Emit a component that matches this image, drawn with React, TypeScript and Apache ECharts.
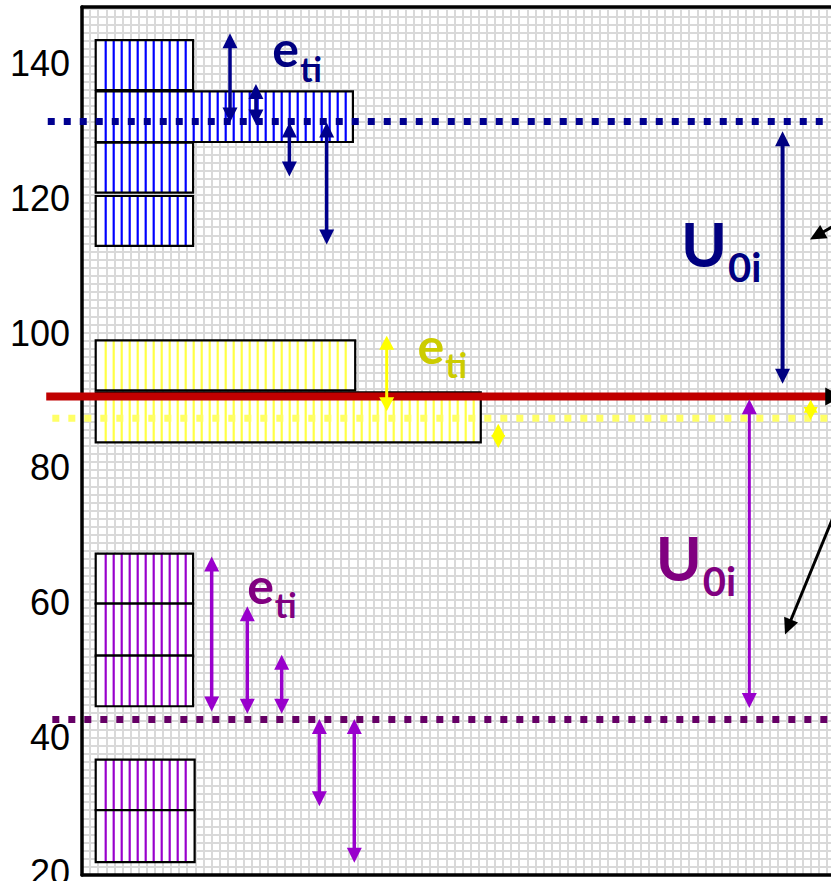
import React, { useEffect, useRef } from "react";
import * as echarts from "echarts";

// ---- axes ----
const Y_MIN = 19.7;
const Y_MAX = 148.3;
const X_MIN = 0;
const X_MAX = 100;
const Y_TICKS = [20, 40, 60, 80, 100, 120, 140];
const GRID_CELLS_X = 94;
const GRID_CELLS_Y = 107.2;

// ---- striped boxes: [xStart, xEnd, yBottom, yTop] ----
const BLUE_BOXES = [
  [1.8, 14.6, 136.0, 143.4],
  [1.8, 35.6, 128.3, 135.8],
  [1.8, 14.6, 120.8, 128.2],
  [1.8, 14.6, 112.9, 120.3],
];
const YELLOW_BOXES = [
  [1.8, 35.9, 91.5, 98.9],
  [1.8, 52.4, 83.8, 91.2],
];
const PURPLE_BOXES = [
  [1.8, 14.6, 59.9, 67.3],
  [1.8, 14.6, 52.2, 59.9],
  [1.8, 14.6, 44.7, 52.2],
  [1.8, 14.8, 29.3, 36.8],
  [1.8, 14.8, 21.6, 29.3],
];

// ---- level lines: [xStart, xEnd, y] ----
const BLUE_LEVEL = [-4.5, 104, 131.35];
const YELLOW_LEVEL = [-3.9, 104, 87.36];
const PURPLE_LEVEL = [-3.9, 104, 42.74];
const RED_LEVEL = [-4.7, 99.9, 90.6]; // ends in an arrow tip

// ---- double arrows: [x, yTop, yBottom] ----
const BLUE_ARROWS = [
  [19.45, 144.4, 131.2],
  [22.86, 136.9, 130.9],
  [27.25, 131.2, 123.2],
  [32.15, 131.2, 113.1],
];
const NAVY_U_ARROW = [[92.06, 129.9, 92.5]];
const YELLOW_ARROWS = [[40.04, 99.6, 88.4]];
const YELLOW_SMALL_ARROWS = [
  [54.7, 86.56, 82.96],
  [95.75, 90.1, 87.1],
];
const PURPLE_ARROWS = [
  [17.04, 66.9, 43.94],
  [21.72, 59.5, 43.6],
  [26.24, 52.34, 43.6],
  [31.19, 42.8, 29.9],
  [35.78, 42.8, 21.5],
];
const PURPLE_U_ARROW = [[87.69, 90.2, 44.44]];

// ---- black pointer arrows: [xTail, yTail, xTip, yTip] ----
const BLACK_ARROWS = [
  [100.26, 116.8, 95.66, 113.85],
  [100.26, 76.98, 92.38, 55.35],
];

// ---- labels: [x, yBaseline] ----
const BLUE_E_POS = [[25.0, 139.3]];
const YELLOW_E_POS = [[44.1, 95.3]];
const PURPLE_E_POS = [[21.7, 59.8]];
const NAVY_U_POS = [[78.7, 109.8]];
const PURPLE_U_POS = [[75.4, 63.2]];

const LABEL_FONT = "Lato, 'Open Sans', sans-serif";

let measureCtx: CanvasRenderingContext2D | null = null;
function textWidth(str: string, size: number) {
  if (!measureCtx) measureCtx = document.createElement("canvas").getContext("2d");
  if (!measureCtx) return size * 0.55 * str.length;
  measureCtx.font = `bold ${size}px ${LABEL_FONT}`;
  return measureCtx.measureText(str).width;
}

function boxRender(stripeColor: string) {
  return (params: any, api: any) => {
    const p0 = api.coord([api.value(0), api.value(3)]);
    const p1 = api.coord([api.value(1), api.value(2)]);
    const x0 = p0[0], y0 = p0[1], x1 = p1[0], y1 = p1[1];
    const children: any[] = [
      { type: "rect", shape: { x: x0, y: y0, width: x1 - x0, height: y1 - y0 }, style: { fill: "#ffffff" } },
    ];
    for (let sx = x0 + 10; sx < x1 - 3; sx += 8) {
      children.push({
        type: "line",
        shape: { x1: sx, y1: y0, x2: sx, y2: y1 },
        style: { stroke: stripeColor, lineWidth: 2.2 },
      });
    }
    children.push({
      type: "rect",
      shape: { x: x0, y: y0, width: x1 - x0, height: y1 - y0 },
      style: { fill: "none", stroke: "#000000", lineWidth: 2.2 },
    });
    return { type: "group", children };
  };
}

function arrowParts(
  ax: number, ay: number, bx: number, by: number,
  o: { double: boolean; lw: number; hw: number; hl: number; color: string; headColor?: string }
) {
  const dx = bx - ax, dy = by - ay;
  const len = Math.hypot(dx, dy) || 1;
  const ux = dx / len, uy = dy / len;
  const nx = -uy, ny = ux;
  const hw = o.hw / 2, hl = o.hl;
  const hc = o.headColor || o.color;
  const children: any[] = [];
  const sA = o.double ? [ax + ux * hl * 0.7, ay + uy * hl * 0.7] : [ax, ay];
  const sB = [bx - ux * hl * 0.7, by - uy * hl * 0.7];
  if (len > 2 * hl) {
    children.push({
      type: "line",
      shape: { x1: sA[0], y1: sA[1], x2: sB[0], y2: sB[1] },
      style: { stroke: o.color, lineWidth: o.lw },
    });
  }
  const head = (tx: number, ty: number, sx: number, sy: number) => ({
    type: "polygon",
    shape: {
      points: [
        [tx, ty],
        [tx - sx * hl + nx * hw, ty - sy * hl + ny * hw],
        [tx - sx * hl - nx * hw, ty - sy * hl - ny * hw],
      ],
    },
    style: { fill: hc },
  });
  children.push(head(bx, by, ux, uy));
  if (o.double) children.push(head(ax, ay, -ux, -uy));
  return children;
}

function vArrowRender(color: string, lw: number, hw: number, hl: number) {
  return (params: any, api: any) => {
    const a = api.coord([api.value(0), api.value(1)]);
    const b = api.coord([api.value(0), api.value(2)]);
    return { type: "group", children: arrowParts(a[0], a[1], b[0], b[1], { double: true, lw, hw, hl, color }) };
  };
}

function levelRender(color: string, width: number) {
  return (params: any, api: any) => {
    const a = api.coord([api.value(0), api.value(2)]);
    const b = api.coord([api.value(1), api.value(2)]);
    return {
      type: "line",
      shape: { x1: a[0], y1: a[1], x2: b[0], y2: b[1] },
      style: { stroke: color, lineWidth: width, lineDash: [7, 9], lineCap: "butt" },
    };
  };
}

function labelRender(main: string, sub: string, color: string, mainSize: number, subSize: number, subDrop: number) {
  return (params: any, api: any) => {
    const p = api.coord([api.value(0), api.value(1)]);
    const w = textWidth(main, mainSize);
    return {
      type: "group",
      children: [
        {
          type: "text",
          x: p[0],
          y: p[1] - mainSize * 0.387,
          style: {
            text: main, fill: color, fontSize: mainSize, fontWeight: "bold", fontFamily: LABEL_FONT,
            align: "left", verticalAlign: "middle",
          },
        },
        {
          type: "text",
          x: p[0] + w + 1,
          y: p[1] + subDrop - subSize * 0.387,
          style: {
            text: sub, fill: color, fontSize: subSize, fontWeight: "bold", fontFamily: LABEL_FONT,
            align: "left", verticalAlign: "middle",
          },
        },
      ],
    };
  };
}

function customSeries(data: any[], renderItem: any, z: number) {
  return {
    type: "custom",
    xAxisIndex: 0,
    yAxisIndex: 0,
    data,
    renderItem,
    clip: false,
    silent: true,
    z,
  };
}

const FRAME = { show: true, lineStyle: { color: "#000000", width: 3.5 } };
const GRID_LINE = { show: true, lineStyle: { color: "#d9d9d9", width: 2 } };
const HIDDEN = { show: false };

export default function App() {
  const ref = useRef<HTMLDivElement>(null);
  useEffect(() => {
    if (!ref.current) return;
    const chart = echarts.init(ref.current, undefined, { renderer: "svg" });
    const redArrow = (params: any, api: any) => {
      const a = api.coord([api.value(0), api.value(2)]);
      const b = api.coord([api.value(1), api.value(2)]);
      return {
        type: "group",
        children: arrowParts(a[0], a[1], b[0], b[1], {
          double: false, lw: 8, hw: 18, hl: 17, color: "#c00000", headColor: "#000000",
        }),
      };
    };
    const blackArrow = (params: any, api: any) => {
      const a = api.coord([api.value(0), api.value(1)]);
      const b = api.coord([api.value(2), api.value(3)]);
      return {
        type: "group",
        children: arrowParts(a[0], a[1], b[0], b[1], { double: false, lw: 3, hw: 15, hl: 16, color: "#000000" }),
      };
    };
    chart.setOption({
      animation: false,
      backgroundColor: "#ffffff",
      grid: {
        left: 82,
        top: 7,
        bottom: 6,
        right: -12,
        show: true,
        backgroundColor: "#ffffff",
        borderWidth: 0,
        containLabel: false,
        outerBoundsMode: "none",
      },
      xAxis: [
        {
          type: "value", min: X_MIN, max: X_MAX, position: "bottom",
          axisLine: FRAME, axisTick: HIDDEN, axisLabel: HIDDEN, splitLine: HIDDEN,
          z: 10,
        },
        {
          type: "value", min: 0, max: GRID_CELLS_X, interval: 1, position: "top",
          axisLine: HIDDEN, axisTick: HIDDEN, axisLabel: HIDDEN, splitLine: GRID_LINE,
          z: 0,
        },
        {
          type: "value", min: X_MIN, max: X_MAX, position: "top",
          axisLine: FRAME, axisTick: HIDDEN, axisLabel: HIDDEN, splitLine: HIDDEN,
          z: 10,
        },
      ],
      yAxis: [
        {
          type: "value", min: Y_MIN, max: Y_MAX, position: "left",
          axisLine: FRAME, axisTick: HIDDEN, splitLine: HIDDEN,
          axisLabel: {
            customValues: Y_TICKS, fontSize: 36, color: "#000000", margin: 12,
            fontFamily: "'Liberation Sans', Arial, sans-serif",
          },
          z: 10,
        },
        {
          type: "value", min: 0, max: GRID_CELLS_Y, interval: 1, position: "right",
          axisLine: HIDDEN, axisTick: HIDDEN, axisLabel: HIDDEN, splitLine: GRID_LINE,
          z: 0,
        },
      ],
      series: [
        customSeries(BLUE_BOXES, boxRender("#0000ff"), 2),
        customSeries(YELLOW_BOXES, boxRender("#ffff44"), 2),
        customSeries(PURPLE_BOXES, boxRender("#9900cc"), 2),
        customSeries([BLUE_LEVEL], levelRender("#000090", 7), 11),
        customSeries([YELLOW_LEVEL], levelRender("#ffff66", 7), 11),
        customSeries([PURPLE_LEVEL], levelRender("#660066", 7), 11),
        customSeries([RED_LEVEL], redArrow, 12),
        customSeries(BLUE_ARROWS, vArrowRender("#00008b", 3.5, 15, 15), 13),
        customSeries(NAVY_U_ARROW, vArrowRender("#000080", 4, 15, 15), 13),
        customSeries(YELLOW_ARROWS, vArrowRender("#ffff00", 3, 15, 14), 13),
        customSeries(YELLOW_SMALL_ARROWS, vArrowRender("#ffff00", 3, 14, 13), 13),
        customSeries(PURPLE_ARROWS, vArrowRender("#9900cc", 3.5, 15, 15), 13),
        customSeries(PURPLE_U_ARROW, vArrowRender("#9900cc", 3, 15, 15), 13),
        customSeries(BLACK_ARROWS, blackArrow, 13),
        customSeries(BLUE_E_POS, labelRender("e", "ti", "#000080", 50, 34, 14), 14),
        customSeries(YELLOW_E_POS, labelRender("e", "ti", "#cccc00", 50, 34, 13), 14),
        customSeries(PURPLE_E_POS, labelRender("e", "ti", "#800080", 50, 34, 13), 14),
        customSeries(NAVY_U_POS, labelRender("U", "0i", "#000080", 62, 40, 16), 14),
        customSeries(PURPLE_U_POS, labelRender("U", "0i", "#800080", 62, 40, 15), 14),
      ],
    });
    return () => chart.dispose();
  }, []);
  return <div ref={ref} style={{ position: "absolute", left: 0, top: 0, width: 831, height: 881 }} />;
}
